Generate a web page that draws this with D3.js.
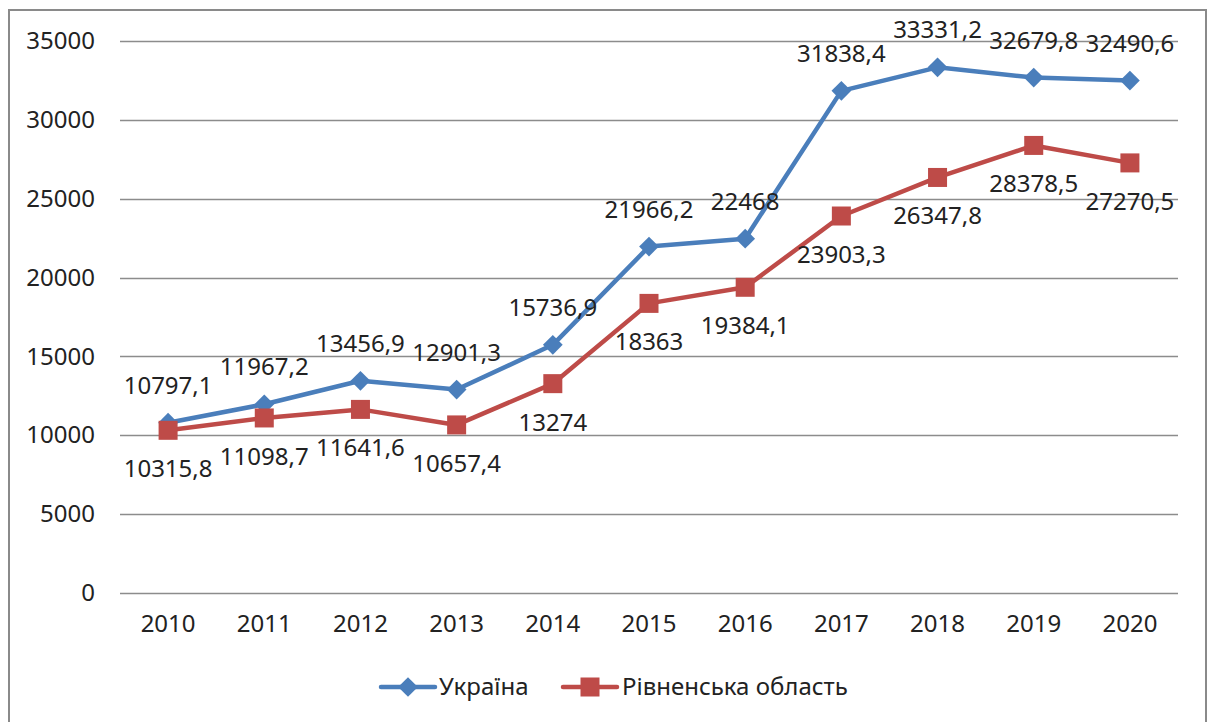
<!DOCTYPE html>
<html><head><meta charset="utf-8">
<script src="https://cdn.jsdelivr.net/npm/d3@7"></script>
<style>
html,body{margin:0;padding:0;background:#fff;}
svg text{font-family:"Noto Sans",sans-serif;fill:#222;}
</style></head>
<body><svg id="c" width="1208" height="722"></svg>
<script>
const years = ["2010","2011","2012","2013","2014","2015","2016","2017","2018","2019","2020"];
const ukraine = [10797.1,11967.2,13456.9,12901.3,15736.9,21966.2,22468,31838.4,33331.2,32679.8,32490.6];
const rivne = [10315.8,11098.7,11641.6,10657.4,13274,18363,19384.1,23903.3,26347.8,28378.5,27270.5];
const yTicks = [0,5000,10000,15000,20000,25000,30000,35000];
const seriesNames = ["Україна","Рівненська область"];

const svg = d3.select("#c");
const fmt = v => String(v).replace(".", ",");
const blue = "#4A7EBB", red = "#BE4B48";

// outer frame
svg.append("rect").attr("x",9).attr("y",10).attr("width",1197).attr("height",720)
  .attr("fill","none").attr("stroke","#8a8a8a").attr("stroke-width",2);

const x = d3.scaleBand().domain(years).range([120,1178]);
const y = d3.scaleLinear().domain([0,35000]).range([593,41]);
const cx = d => x(d) + x.bandwidth()/2;

// gridlines
svg.append("g").selectAll("line").data(yTicks).join("line")
  .attr("x1",120).attr("x2",1178)
  .attr("y1",d=>Math.round(y(d))+0.5).attr("y2",d=>Math.round(y(d))+0.5)
  .attr("stroke","#8c8c8c").attr("stroke-width",1.3);

// y axis labels
const yAxis = d3.axisLeft(y).tickValues(yTicks).tickSize(0).tickPadding(0).tickFormat(d=>d);
const gy = svg.append("g").attr("transform","translate(95,0)").call(yAxis);
gy.select(".domain").remove();
gy.selectAll("text").attr("font-size",24).attr("font-family","Noto Sans").attr("fill","#222");

// x axis labels
const xAxis = d3.axisBottom(x).tickSize(0).tickPadding(0);
const gx = svg.append("g").attr("transform","translate(0,615)").call(xAxis);
gx.select(".domain").remove();
gx.selectAll("text").attr("font-size",24).attr("font-family","Noto Sans").attr("fill","#222");

const line = d3.line().x((d,i)=>cx(years[i])).y(d=>y(d));

// Ukraine
svg.append("path").datum(ukraine).attr("d",line).attr("fill","none")
  .attr("stroke",blue).attr("stroke-width",4.5).attr("stroke-linejoin","round");
// Rivne
svg.append("path").datum(rivne).attr("d",line).attr("fill","none")
  .attr("stroke",red).attr("stroke-width",4.5).attr("stroke-linejoin","round");

const diamond = d3.symbol().type(d3.symbolSquare).size(195);
svg.append("g").selectAll("path").data(ukraine).join("path")
  .attr("d",diamond)
  .attr("transform",(d,i)=>`translate(${cx(years[i])},${y(d)}) rotate(45)`)
  .attr("fill",blue);

svg.append("g").selectAll("rect").data(rivne).join("rect")
  .attr("x",(d,i)=>cx(years[i])-9.5).attr("y",d=>y(d)-9.5)
  .attr("width",19).attr("height",19).attr("fill",red);

// labels
svg.append("g").selectAll("text").data(ukraine).join("text")
  .attr("x",(d,i)=>cx(years[i])).attr("y",d=>y(d)-29)
  .attr("text-anchor","middle").attr("font-size",24).text(d=>fmt(d));
svg.append("g").selectAll("text").data(rivne).join("text")
  .attr("x",(d,i)=>cx(years[i])).attr("y",d=>y(d)+47)
  .attr("text-anchor","middle").attr("font-size",24).text(d=>fmt(d));

// legend
const leg = svg.append("g");
const ly = 687;
leg.append("line").attr("x1",381).attr("x2",435).attr("y1",ly).attr("y2",ly)
  .attr("stroke",blue).attr("stroke-width",4.5).attr("stroke-linecap","round");
leg.append("path").attr("d",diamond).attr("transform",`translate(408,${ly}) rotate(45)`).attr("fill",blue);
leg.append("text").attr("x",439).attr("y",ly).attr("dy","0.35em").attr("font-size",24).text(seriesNames[0]);
leg.append("line").attr("x1",563).attr("x2",617).attr("y1",ly).attr("y2",ly)
  .attr("stroke",red).attr("stroke-width",4.5).attr("stroke-linecap","round");
leg.append("rect").attr("x",580.5).attr("y",ly-9.5).attr("width",19).attr("height",19).attr("fill",red);
leg.append("text").attr("x",622).attr("y",ly).attr("dy","0.35em").attr("font-size",24).text(seriesNames[1]);
</script></body></html>
